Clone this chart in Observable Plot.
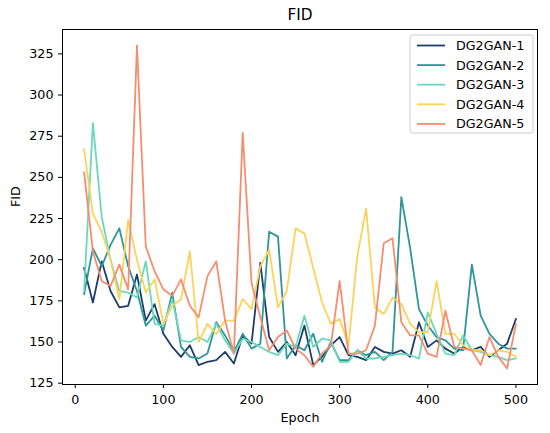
<!DOCTYPE html>
<html><head><meta charset="utf-8">
<script src="https://cdn.jsdelivr.net/npm/d3@7"></script>
<script src="https://cdn.jsdelivr.net/npm/@observablehq/plot@0.6"></script>
<style>body{margin:0;background:#fff} svg{font-family:"DejaVu Sans",sans-serif}</style>
</head><body><div id="chart"></div>
<script>
const epochs = [10,20,30,40,50,60,70,80,90,100,110,120,130,140,150,160,170,180,190,200,210,220,230,240,250,260,270,280,290,300,310,320,330,340,350,360,370,380,390,400,410,420,430,440,450,460,470,480,490,500];
const seriesNames = ["DG2GAN-1","DG2GAN-2","DG2GAN-3","DG2GAN-4","DG2GAN-5"];
const seriesColors = ["#1d3d6b","#2e9598","#6bd8bb","#fcd35a","#f58d6e"];
const dg1 = [195,174,199,181,171,172,191,163,173,155,147,141,148,136,138,139,144,137,154,149,198,153,144,150,142,160,136,141,148,153,142,141,139,147,144,143,145,141,162,147,151,146,143,147,145,147,141,145,149,164];
const dg2 = [179,207,196,209,219,196,181,160,166,157,180,147,141,140,143,162,154,144,155,146,149,217,214,140,148,145,155,138,150,139,139,145,142,144,139,144,238,207,170,160,153,151,146,145,197,166,155,149,146,146];
const dg3 = [181,283,226,200,181,180,177,199,161,160,176,151,150,153,150,161,151,143,152,150,147,144,142,149,147,166,147,152,151,138,138,145,140,140,141,142,143,142,140,168,155,143,142,154,145,144,142,141,139,140];
const dg4 = [267,228,217,200,176,224,200,180,188,161,172,176,205,150,161,155,163,163,176,170,196,206,171,181,219,216,195,174,161,164,148,202,231,171,167,177,173,161,156,156,187,155,155,148,145,145,142,145,144,141];
const dg5 = [253,205,187,184,197,182,330,208,193,182,178,188,172,165,190,199,163,143,277,186,165,145,153,157,146,142,135,143,148,187,143,143,145,160,210,213,162,154,154,143,141,169,147,146,145,136,153,141,134,161];
const xTicks = [0,100,200,300,400,500];
const yTicks = [125,150,175,200,225,250,275,300,325];

const allSeries = [dg1,dg2,dg3,dg4,dg5];
const rows = [];
allSeries.forEach((vals,i)=>vals.forEach((v,j)=>rows.push({series:seriesNames[i],epoch:epochs[j],fid:v})));

const FS = 12.7;
const plot = Plot.plot({
  width:550, height:433,
  marginLeft:62, marginRight:13, marginTop:29, marginBottom:49,
  style:{fontFamily:"DejaVu Sans, sans-serif", fontSize:FS+"px", color:"#000", background:"#fff"},
  x:{domain:[-14.5,524.5]},
  y:{domain:[124.2,339.8]},
  color:{domain:seriesNames, range:seriesColors},
  marks:[
    Plot.axisX({ticks:xTicks, tickSize:4, tickPadding:6, label:null, fontSize:FS}),
    Plot.axisY({ticks:yTicks, tickSize:4, tickPadding:5, label:null, fontSize:FS}),
    Plot.lineY(rows,{x:"epoch", y:"fid", stroke:"series", z:"series", strokeWidth:1.8}),
    Plot.frame({stroke:"#000", strokeWidth:1}),
    Plot.text(["FID"],{frameAnchor:"top", dy:-14, fontSize:15.3, lineAnchor:"middle"}),
    Plot.text(["Epoch"],{frameAnchor:"bottom", dy:33, fontSize:FS, lineAnchor:"middle"}),
    Plot.text(["FID"],{frameAnchor:"left", dx:-47, rotate:-90, fontSize:FS, lineAnchor:"middle"})
  ]
});
document.getElementById("chart").appendChild(plot);

// legend
const svg = d3.select(plot);
const lg = svg.append("g").attr("text-anchor","start");
lg.append("rect").attr("x",410).attr("y",35).attr("width",123).attr("height",98).attr("rx",3)
  .attr("fill","#fff").attr("fill-opacity",0.8).attr("stroke","#cccccc");
seriesNames.forEach((n,i)=>{
  const y = 45.5 + i*19.6;
  lg.append("line").attr("x1",417).attr("x2",445).attr("y1",y).attr("y2",y)
    .attr("stroke",seriesColors[i]).attr("stroke-width",1.8);
  lg.append("text").attr("x",456).attr("y",y).attr("dy","0.35em").attr("text-anchor","start")
    .attr("font-size",FS).attr("fill","#000").text(n);
});
</script></body></html>
